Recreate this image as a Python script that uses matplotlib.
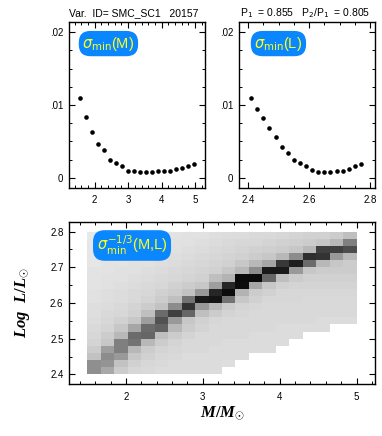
import numpy as np
import matplotlib
matplotlib.use("Agg")
import matplotlib.pyplot as plt
from matplotlib.ticker import MultipleLocator

plt.rcParams['font.family'] = ['Liberation Sans', 'DejaVu Sans']
plt.rcParams['mathtext.fontset'] = 'custom'
plt.rcParams['mathtext.it'] = 'Liberation Serif:italic:bold'
plt.rcParams['mathtext.rm'] = 'Liberation Serif:bold'
plt.rcParams['mathtext.bf'] = 'Liberation Serif:bold'

# ---- data: top panels ----
mass_pts = [1.56, 1.74, 1.92, 2.10, 2.28, 2.46, 2.64, 2.82, 3.00, 3.18,
            3.36, 3.54, 3.72, 3.90, 4.08, 4.26, 4.44, 4.62, 4.80, 4.98]
sigma_M = [0.0110, 0.0083, 0.0063, 0.0046, 0.0038, 0.0025, 0.0021, 0.0016, 0.0010, 0.0010,
           0.0008, 0.0008, 0.0008, 0.0009, 0.0010, 0.0010, 0.0012, 0.0014, 0.0016, 0.0019]
lum_pts = [2.41, 2.43, 2.45, 2.47, 2.49, 2.51, 2.53, 2.55, 2.57, 2.59,
           2.61, 2.63, 2.65, 2.67, 2.69, 2.71, 2.73, 2.75, 2.77]
sigma_L = [0.0110, 0.0095, 0.0082, 0.0069, 0.0056, 0.0043, 0.0034, 0.0025, 0.0021, 0.0016,
           0.0011, 0.0008, 0.0008, 0.0008, 0.0009, 0.0010, 0.0012, 0.0016, 0.0019]

# ---- data: bottom map (normalised sigma_min^-1/3, rows = L from 2.41 to 2.79) ----
mass_grid = [1.5875, 1.7625, 1.9375, 2.1125, 2.2875, 2.4625, 2.6375, 2.8125, 2.9875, 3.1625,
             3.3375, 3.5125, 3.6875, 3.8625, 4.0375, 4.2125, 4.3875, 4.5625, 4.7375, 4.9125]
lum_grid = [2.41, 2.43, 2.45, 2.47, 2.49, 2.51, 2.53, 2.55, 2.57, 2.59,
            2.61, 2.63, 2.65, 2.67, 2.69, 2.71, 2.73, 2.75, 2.77, 2.79]
n = np.nan
sigma_map = [
    [.44, .34, .20, .16, .15, .14, .14, .14, .14, .14, n, n, n, n, n, n, n, n, n, n],
    [.44, .42, .24, .18, .16, .15, .14, .14, .14, .14, .13, n, n, n, n, n, n, n, n, n],
    [.24, .45, .40, .22, .18, .16, .15, .14, .14, .14, .14, .14, n, n, n, n, n, n, n, n],
    [.20, .38, .50, .28, .20, .17, .16, .15, .15, .14, .14, .14, .14, .14, n, n, n, n, n, n],
    [.17, .22, .50, .55, .28, .20, .17, .15, .15, .15, .14, .14, .14, .14, .14, n, n, n, n, n],
    [.16, .20, .28, .58, .60, .25, .20, .17, .15, .15, .15, .15, .14, .14, .14, .14, n, n, n, n],
    [.15, .17, .22, .35, .58, .62, .28, .20, .17, .15, .15, .15, .15, .15, .14, .14, .14, .14, n, n],
    [.14, .16, .18, .22, .38, .68, .40, .22, .18, .16, .15, .15, .15, .15, .15, .15, .15, .14, .14, .14],
    [.13, .15, .16, .18, .25, .58, .75, .60, .25, .20, .17, .16, .15, .15, .15, .15, .15, .15, .15, .15],
    [.13, .14, .15, .17, .20, .24, .45, .80, .40, .28, .20, .17, .16, .15, .15, .15, .15, .15, .15, .15],
    [.12, .13, .14, .15, .17, .20, .25, .55, .90, .92, .55, .22, .18, .16, .16, .16, .15, .15, .15, .15],
    [.12, .13, .14, .15, .16, .18, .20, .24, .40, .85, .95, .30, .20, .18, .16, .16, .16, .16, .16, .16],
    [.11, .12, .13, .14, .15, .16, .18, .20, .22, .38, .85, .95, .35, .22, .18, .17, .17, .17, .17, .17],
    [.11, .12, .12, .13, .14, .15, .16, .17, .18, .25, .30, .96, .96, .60, .25, .20, .18, .18, .18, .18],
    [.11, .11, .12, .12, .13, .14, .15, .16, .17, .18, .22, .28, .45, .90, .90, .40, .22, .20, .20, .20],
    [.10, .11, .11, .12, .12, .13, .14, .15, .16, .17, .18, .22, .28, .35, .78, .88, .58, .28, .22, .20],
    [.10, .10, .11, .11, .12, .12, .13, .14, .15, .16, .17, .18, .20, .22, .28, .45, .82, .80, .40, .28],
    [.10, .10, .10, .11, .11, .12, .12, .13, .14, .15, .16, .17, .18, .19, .20, .22, .28, .75, .75, .70],
    [.10, .10, .10, .10, .11, .11, .12, .12, .13, .14, .15, .16, .16, .17, .18, .19, .20, .22, .28, .50],
    [.09, .10, .10, .10, .10, .11, .11, .12, .12, .13, .14, .14, .15, .15, .16, .17, .18, .18, .20, .25],
]

title_left = 'Var.  ID= SMC_SC1   20157'
title_right = r'P$_1$  = 0.855   P$_2$/P$_1$  = 0.805'

BOX = '#0a86ff'
TXT = '#ffff1a'

fig = plt.figure(figsize=(3.82, 4.36), dpi=100)
W, H = 382.0, 436.0
ax1 = fig.add_axes([69 / W, 1 - 188 / H, 136 / W, 166 / H])
ax2 = fig.add_axes([239 / W, 1 - 188 / H, 136 / W, 166 / H])
ax3 = fig.add_axes([69 / W, 1 - 384 / H, 306 / W, 162 / H])

def style(ax, pad_x=5, pad_y=4):
    for s in ax.spines.values():
        s.set_linewidth(1.0)
    ax.tick_params(which='both', direction='in', top=True, right=True, labelsize=7)
    ax.tick_params(which='major', length=4, width=0.8)
    ax.tick_params(which='minor', length=2, width=0.7)
    ax.tick_params(axis='x', pad=pad_x)
    ax.tick_params(axis='y', pad=pad_y)

# top-left
ax1.plot(mass_pts, sigma_M, 'o', color='k', ms=3.3, mec='none')
ax1.set_xlim(1.23, 5.3)
ax1.set_ylim(-0.0014, 0.0214)
ax1.set_xticks([2, 3, 4, 5])
ax1.xaxis.set_minor_locator(MultipleLocator(0.2))
ax1.set_yticks([0, 0.01, 0.02], labels=['0', '.01', '.02'])
ax1.yaxis.set_minor_locator(MultipleLocator(0.0025))
style(ax1)

# top-right
ax2.plot(lum_pts, sigma_L, 'o', color='k', ms=3.3, mec='none')
ax2.set_xlim(2.37, 2.816)
ax2.set_ylim(-0.0014, 0.0214)
ax2.set_xticks([2.4, 2.6, 2.8], labels=['2.4', '2.6', '2.8'])
ax2.xaxis.set_minor_locator(MultipleLocator(0.05))
ax2.set_yticks([0, 0.01, 0.02], labels=['0', '.01', '.02'])
ax2.yaxis.set_minor_locator(MultipleLocator(0.0025))
style(ax2)

# bottom map
Z = np.ma.masked_invalid(np.array(sigma_map, dtype=float))
ax3.pcolormesh(mass_grid, lum_grid, Z, cmap='gray_r', vmin=0, vmax=1,
               shading='nearest', antialiased=False, linewidth=0)
ax3.set_xlim(1.26, 5.24)
ax3.set_ylim(2.373, 2.827)
ax3.set_xticks([2, 3, 4, 5])
ax3.xaxis.set_minor_locator(MultipleLocator(0.2))
ax3.set_yticks([2.4, 2.5, 2.6, 2.7, 2.8], labels=['2.4', '2.5', '2.6', '2.7', '2.8'])
ax3.yaxis.set_minor_locator(MultipleLocator(0.05))
style(ax3, pad_x=6)

# labels in blue boxes
bb = dict(boxstyle='round,pad=0.25,rounding_size=0.8', fc=BOX, ec='none')
ax1.text(0.29, 0.87, r'$\sigma_{\rm min}$(M)', transform=ax1.transAxes, ha='center', va='center',
         fontsize=10.5, color=TXT, bbox=bb, math_fontfamily='dejavusans')
ax2.text(0.29, 0.87, r'$\sigma_{\rm min}$(L)', transform=ax2.transAxes, ha='center', va='center',
         fontsize=10.5, color=TXT, bbox=bb, math_fontfamily='dejavusans')
ax3.text(0.206, 0.855, r'$\sigma_{\rm min}^{-1/3}$(M,L)', transform=ax3.transAxes, ha='center', va='center',
         fontsize=10.5, color=TXT, bbox=bb, math_fontfamily='dejavusans')

# titles
fig.text(69 / W, 1 - 13 / H, title_left, fontsize=7.5, ha='left', va='center')
fig.text(240 / W, 1 - 13 / H, title_right, fontsize=7.5, ha='left', va='center',
         math_fontfamily='dejavusans')

# axis labels
fig.text(22 / W, 1 - 303 / H, r'$Log\ \ L/L_{\odot}$', rotation=90, ha='center', va='center', fontsize=12)
fig.text(222 / W, 1 - 413 / H, r'$M/M_{\odot}$', ha='center', va='center', fontsize=12)

fig.savefig('out.png', dpi=100)
